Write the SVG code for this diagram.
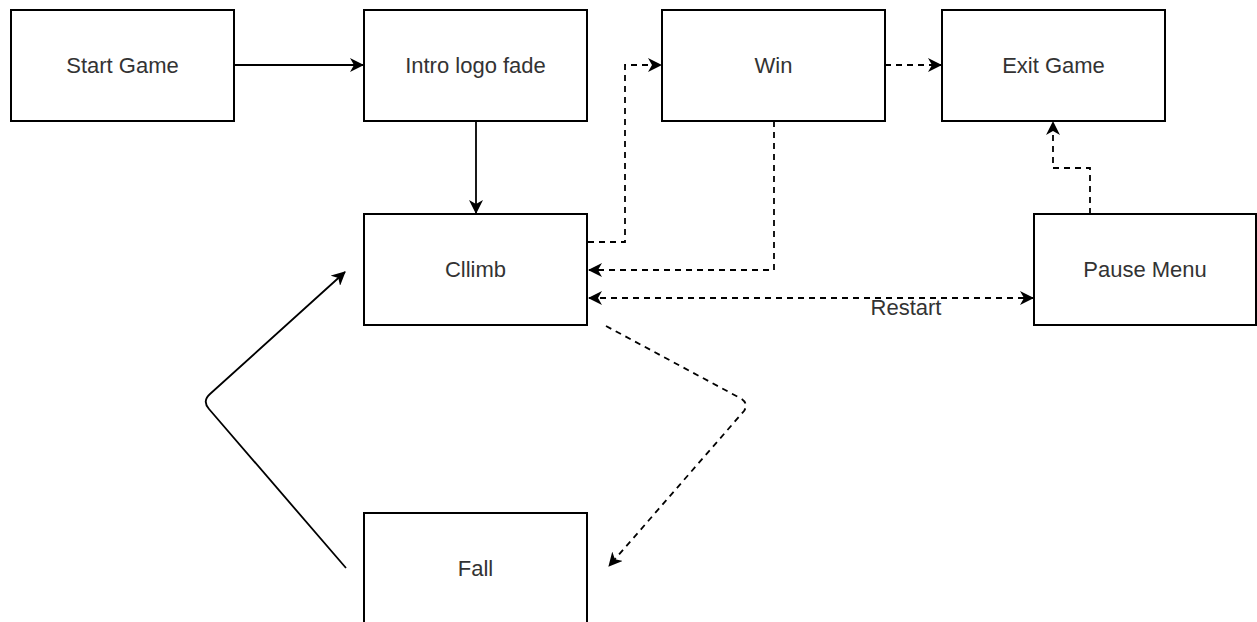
<svg xmlns="http://www.w3.org/2000/svg" width="1257" height="622" viewBox="0 0 1257 622">
<style>
.box{fill:#fff;stroke:#000;stroke-width:2}
.lbl{font-family:"Liberation Sans",Arial,sans-serif;font-size:22px;fill:#333;text-anchor:middle}
.e{fill:none;stroke:#000;stroke-width:1.8}
.d{stroke-dasharray:6 5}
</style>
<defs>
<marker id="ah" viewBox="0 0 14 14" refX="13" refY="7" markerWidth="14" markerHeight="14" markerUnits="userSpaceOnUse" orient="auto-start-reverse">
<path d="M0,0 L14,7 L0,14 L4,7 Z" fill="#000"/>
</marker>
</defs>
<rect width="1257" height="622" fill="#fff"/>
<g id="connectors">
<path class="e" d="M234,65 H363" marker-end="url(#ah)"/>
<path class="e" d="M476,121 V213" marker-end="url(#ah)"/>
<path class="e d" d="M588,242 H625 V65 H661" marker-end="url(#ah)"/>
<path class="e d" d="M774,121 V270 H589" marker-end="url(#ah)"/>
<path class="e d" d="M589,298 H1033" marker-start="url(#ah)" marker-end="url(#ah)"/>
<path class="e d" d="M885,65 H941" marker-end="url(#ah)"/>
<path class="e d" d="M1090,214 V168 H1053 V122" marker-end="url(#ah)"/>
<path class="e d" d="M606,326 L740,398 Q749,403 744,411 L609,566" marker-end="url(#ah)"/>
<path class="e" d="M346,568 L209,409 Q202,401 210,394 L345,272" marker-end="url(#ah)"/>
<text class="lbl" x="906" y="315">Restart</text>
</g>
<g id="start"><rect class="box" x="11" y="10" width="223" height="111"/><text class="lbl" x="122.5" y="73">Start Game</text></g>
<g id="intro"><rect class="box" x="364" y="10" width="223" height="111"/><text class="lbl" x="475.5" y="73">Intro logo fade</text></g>
<g id="win"><rect class="box" x="662" y="10" width="223" height="111"/><text class="lbl" x="773.5" y="73">Win</text></g>
<g id="exit"><rect class="box" x="942" y="10" width="223" height="111"/><text class="lbl" x="1053.5" y="73">Exit Game</text></g>
<g id="climb"><rect class="box" x="364" y="214" width="223" height="111"/><text class="lbl" x="475.5" y="277">Cllimb</text></g>
<g id="pause"><rect class="box" x="1034" y="214" width="222" height="111"/><text class="lbl" x="1145" y="277">Pause Menu</text></g>
<g id="fall"><rect class="box" x="364" y="513" width="223" height="120"/><text class="lbl" x="475.5" y="576">Fall</text></g>
</svg>
